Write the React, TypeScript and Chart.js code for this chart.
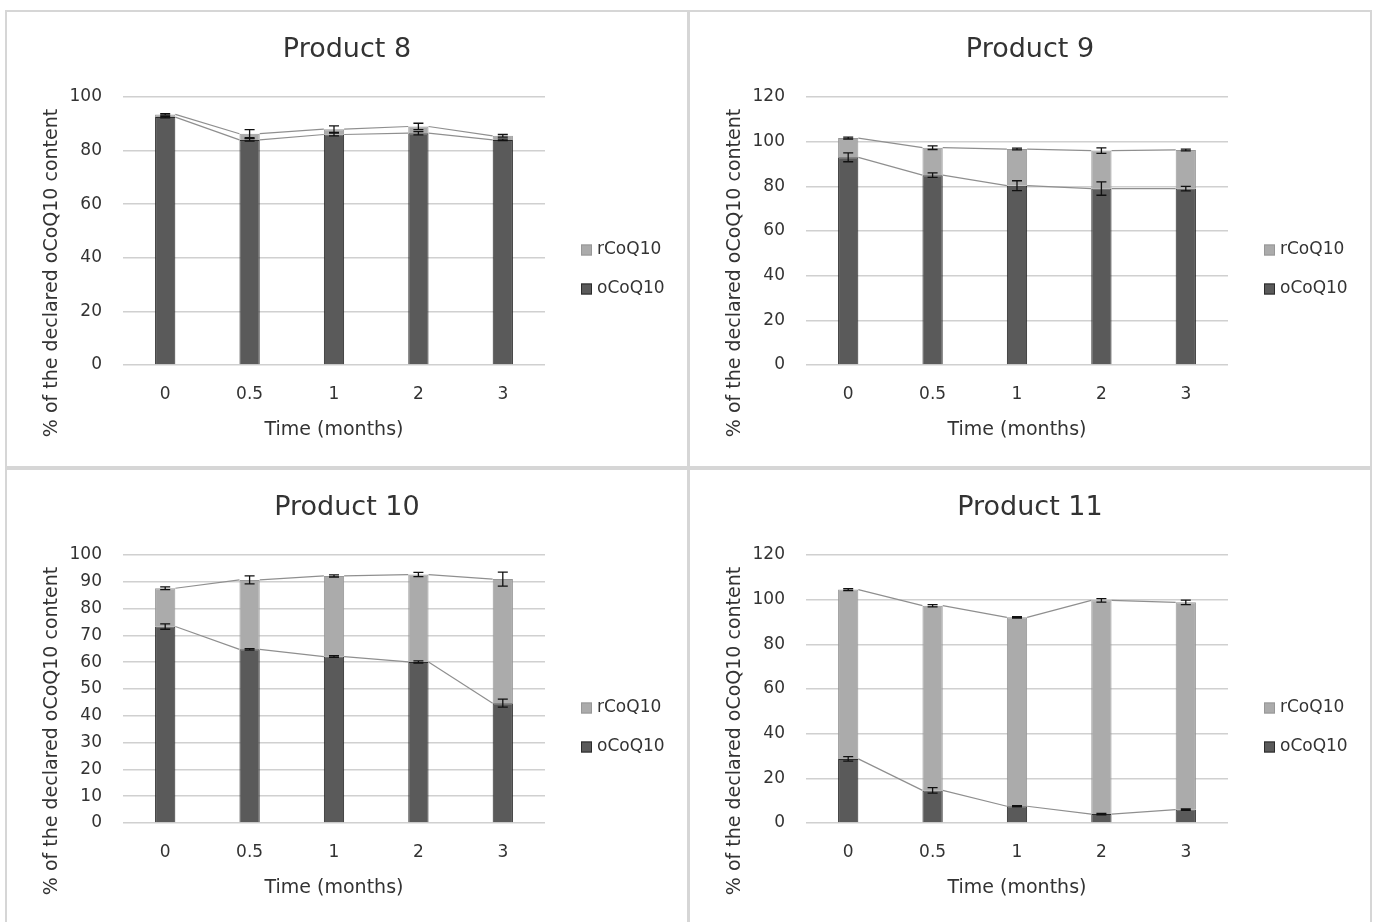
import React, { useEffect, useRef } from "react";
import { Chart, registerables } from "chart.js";

Chart.register(...registerables);

const FONT = "'DejaVu Sans', sans-serif";
const TEXT_COLOR = "#333333";

const timeLabels = ["0", "0.5", "1", "2", "3"];
const oxLabel = "oCoQ10";
const redLabel = "rCoQ10";
const yAxisTitle = "% of the declared oCoQ10 content";
const xAxisTitle = "Time (months)";

// Product 8
const p8Oxidized = [92.5, 84, 86, 86.5, 84];
const p8Reduced = [1, 2.3, 2, 2.5, 1.5];
const p8OxErr = [0.3, 0.5, 0.5, 0.6, 0.3];
const p8TotalErr = [0.3, 1.5, 1.2, 1.2, 0.5];

// Product 9
const p9Oxidized = [93, 85, 80.3, 79, 79];
const p9Reduced = [8.6, 12.3, 16.4, 17, 17.3];
const p9OxErr = [2, 1, 2.2, 3, 1];
const p9TotalErr = [0.4, 0.8, 0.4, 1.2, 0.4];

// Product 10
const p10Oxidized = [73.3, 64.8, 62.1, 60.1, 44.7];
const p10Reduced = [14.3, 25.9, 30.1, 32.6, 46.3];
const p10OxErr = [1, 0.3, 0.3, 0.4, 1.5];
const p10TotalErr = [0.5, 1.5, 0.4, 0.8, 2.6];

// Product 11
const p11Oxidized = [28.7, 14.6, 7.5, 4, 6];
const p11Reduced = [75.8, 82.7, 84.6, 95.7, 92.8];
const p11OxErr = [1, 1.2, 0.3, 0.3, 0.3];
const p11TotalErr = [0.4, 0.5, 0.3, 0.8, 1];

const CANVAS_W = 680;
const CANVAS_H = 454;

type PanelProps = {
  title: string;
  ox: number[];
  red: number[];
  oxErr: number[];
  totErr: number[];
  yMax: number;
  yStep: number;
  left: number;
  top: number;
};

function Panel({ title, ox, red, oxErr, totErr, yMax, yStep, left, top }: PanelProps) {
  const ref = useRef<HTMLCanvasElement | null>(null);

  useEffect(() => {
    if (!ref.current) return;
    const overlay = {
      id: "overlay",
      afterDatasetsDraw(chart: any) {
        const ctx = chart.ctx;
        const ys = chart.scales.y;
        const n = ox.length;
        const tops = [ox, ox.map((v, i) => v + red[i])];
        const errs = [oxErr, totErr];
        ctx.save();
        // series lines
        ctx.strokeStyle = "#8f8f8f";
        ctx.lineWidth = 1.2;
        for (let d = 0; d < 2; d++) {
          const bars = chart.getDatasetMeta(d).data;
          for (let i = 0; i < n - 1; i++) {
            const a = bars[i];
            const b = bars[i + 1];
            ctx.beginPath();
            ctx.moveTo(a.x + a.width / 2, a.y);
            ctx.lineTo(b.x - b.width / 2, b.y);
            ctx.stroke();
          }
        }
        // error bars
        ctx.strokeStyle = "#111111";
        ctx.lineWidth = 1.3;
        for (let d = 0; d < 2; d++) {
          const bars = chart.getDatasetMeta(d).data;
          for (let i = 0; i < n; i++) {
            const x = bars[i].x;
            const v = tops[d][i];
            const e = errs[d][i];
            const y1 = ys.getPixelForValue(v + e);
            const y2 = ys.getPixelForValue(v - e);
            ctx.beginPath();
            ctx.moveTo(x, y1);
            ctx.lineTo(x, y2);
            ctx.moveTo(x - 5, y1);
            ctx.lineTo(x + 5, y1);
            ctx.moveTo(x - 5, y2);
            ctx.lineTo(x + 5, y2);
            ctx.stroke();
          }
        }
        ctx.restore();
      },
      afterDraw(chart: any) {
        const ctx = chart.ctx;
        ctx.save();
        // y axis title
        ctx.translate(45, 261);
        ctx.rotate(-Math.PI / 2);
        ctx.font = `19px ${FONT}`;
        ctx.fillStyle = TEXT_COLOR;
        ctx.textAlign = "center";
        ctx.textBaseline = "middle";
        ctx.fillText(yAxisTitle, 0, 0);
        ctx.restore();
        // legend (reverse order: rCoQ10 first)
        ctx.save();
        const items = [1, 0];
        ctx.font = `17px ${FONT}`;
        ctx.textBaseline = "middle";
        ctx.textAlign = "left";
        items.forEach((d, k) => {
          const ds = chart.data.datasets[d];
          const cy = 238 + k * 39;
          ctx.fillStyle = ds.backgroundColor;
          ctx.fillRect(574, cy - 5.5, 11, 11);
          ctx.strokeStyle = ds.borderColor;
          ctx.lineWidth = 1;
          ctx.strokeRect(574.5, cy - 5, 10, 10);
          ctx.fillStyle = TEXT_COLOR;
          ctx.fillText(ds.label, 590, cy);
        });
        ctx.restore();
      },
    };

    const chart = new Chart(ref.current, {
      type: "bar",
      data: {
        labels: timeLabels,
        datasets: [
          {
            label: oxLabel,
            data: ox,
            backgroundColor: "#5a5a5a",
            borderColor: "#2b2b2b",
            borderWidth: 1,
            barPercentage: 0.24,
            categoryPercentage: 1,
          },
          {
            label: redLabel,
            data: red,
            backgroundColor: "#ababab",
            borderColor: "#979797",
            borderWidth: 1,
            barPercentage: 0.24,
            categoryPercentage: 1,
          },
        ],
      },
      options: {
        responsive: false,
        animation: false,
        layout: { padding: 0 },
        plugins: {
          legend: { display: false },
          tooltip: { enabled: false },
          title: {
            display: true,
            text: title,
            color: TEXT_COLOR,
            font: { family: FONT, size: 27, weight: "normal" },
            padding: { top: 21.8, bottom: 30.8 },
          },
        },
        scales: {
          x: {
            stacked: true,
            grid: { display: false },
            border: { display: false },
            ticks: { color: TEXT_COLOR, font: { family: FONT, size: 17 }, padding: 11 },
            title: {
              display: true,
              text: xAxisTitle,
              color: TEXT_COLOR,
              font: { family: FONT, size: 19 },
              padding: { top: 0, bottom: 24.6 },
            },
            afterFit: (s: any) => {
              s.height = 101;
            },
          },
          y: {
            stacked: true,
            min: 0,
            max: yMax,
            ticks: { stepSize: yStep, padding: 21, color: TEXT_COLOR, font: { family: FONT, size: 17 } },
            grid: { color: "#d0d0d0", lineWidth: 1.5, drawTicks: false },
            border: { display: false },
            afterFit: (s: any) => {
              s.width = 116;
            },
          },
          legendSpace: {
            type: "linear",
            position: "right",
            display: true,
            grid: { display: false, drawTicks: false },
            border: { display: false },
            ticks: { display: false },
            afterFit: (s: any) => {
              s.width = 142;
            },
          },
        },
      },
      plugins: [overlay],
    } as any);
    return () => chart.destroy();
  }, []);

  return (
    <div
      style={{
        position: "absolute",
        left,
        top,
        width: CANVAS_W + 4,
        height: CANVAS_H + 4,
        boxSizing: "border-box",
        border: "2px solid #d6d6d6",
        background: "#fff",
      }}
    >
      <canvas ref={ref} width={CANVAS_W} height={CANVAS_H} style={{ display: "block" }} />
    </div>
  );
}

export default function App() {
  return (
    <div style={{ position: "absolute", left: 0, top: 0, width: 1382, height: 922, overflow: "hidden", background: "#fff" }}>
      <Panel title="Product 8" ox={p8Oxidized} red={p8Reduced} oxErr={p8OxErr} totErr={p8TotalErr} yMax={100} yStep={20} left={5} top={10} />
      <Panel title="Product 9" ox={p9Oxidized} red={p9Reduced} oxErr={p9OxErr} totErr={p9TotalErr} yMax={120} yStep={20} left={688} top={10} />
      <Panel title="Product 10" ox={p10Oxidized} red={p10Reduced} oxErr={p10OxErr} totErr={p10TotalErr} yMax={100} yStep={10} left={5} top={468} />
      <Panel title="Product 11" ox={p11Oxidized} red={p11Reduced} oxErr={p11OxErr} totErr={p11TotalErr} yMax={120} yStep={20} left={688} top={468} />
    </div>
  );
}
